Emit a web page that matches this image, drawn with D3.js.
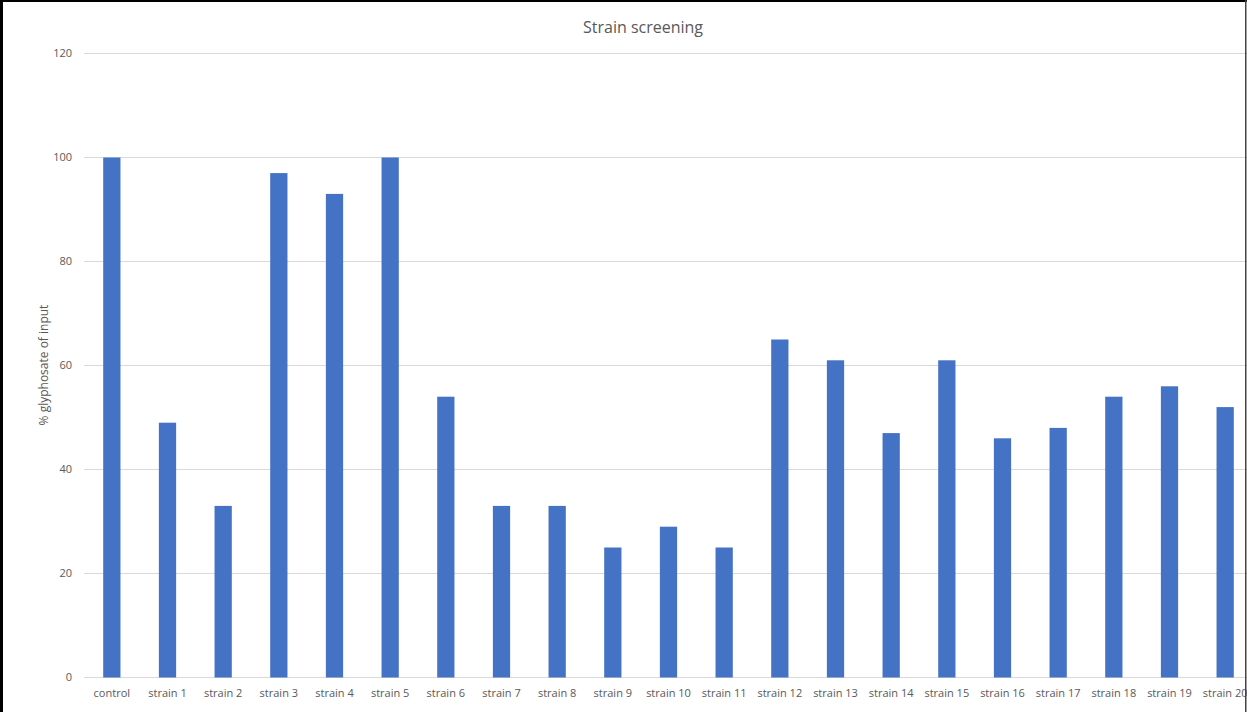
<!DOCTYPE html>
<html>
<head>
<meta charset="utf-8">
<script src="https://cdn.jsdelivr.net/npm/d3@7"></script>
<style>
  body { margin: 0; background: #fff; }
  svg { display: block; font-family: "Open Sans", "Liberation Sans", sans-serif; }
</style>
</head>
<body>
<div id="chart-area"></div>
<script>
// data
var categories = ["control", "strain 1", "strain 2", "strain 3", "strain 4", "strain 5", "strain 6",
  "strain 7", "strain 8", "strain 9", "strain 10", "strain 11", "strain 12", "strain 13",
  "strain 14", "strain 15", "strain 16", "strain 17", "strain 18", "strain 19", "strain 20"];
var values = [100, 49, 33, 97, 93, 100, 54, 33, 33, 25, 29, 25, 65, 61, 47, 61, 46, 48, 54, 56, 52];
var yTicks = [0, 20, 40, 60, 80, 100, 120];

var width = 1247, height = 712;
var plot = {left: 84, right: 1253, top: 53.5, bottom: 677.5};

var svg = d3.select("#chart-area").append("svg").attr("width", width).attr("height", height);

var x = d3.scaleBand().domain(categories).range([plot.left, plot.right]).paddingInner(0.69).paddingOuter(0.345);
var y = d3.scaleLinear().domain([0, 120]).range([plot.bottom, plot.top]);

// gridlines
svg.append("g").selectAll("line").data(yTicks).enter().append("line")
  .attr("x1", plot.left).attr("x2", plot.right)
  .attr("y1", d => y(d)).attr("y2", d => y(d))
  .attr("stroke", "#d9d9d9").attr("stroke-width", 1);

// y tick labels
svg.append("g").selectAll("text").data(yTicks).enter().append("text")
  .attr("x", 72).attr("y", d => y(d)).attr("dy", "0.35em")
  .attr("text-anchor", "end").attr("font-size", "11px").attr("fill", "#595959")
  .text(d => d);

// bars
svg.append("g").selectAll("rect").data(values).enter().append("rect")
  .attr("x", (d, i) => x(categories[i]))
  .attr("y", d => y(d))
  .attr("width", x.bandwidth())
  .attr("height", d => y(0) - y(d))
  .attr("fill", "#4472c4");

// x labels
svg.append("g").selectAll("text").data(categories).enter().append("text")
  .attr("x", d => x(d) + x.bandwidth() / 2).attr("y", 697)
  .attr("text-anchor", "middle").attr("font-size", "11px").attr("fill", "#595959")
  .text(d => d);

// title
svg.append("text").attr("x", 643).attr("y", 33).attr("text-anchor", "middle")
  .attr("font-size", "16px").attr("fill", "#595959").text("Strain screening");

// y axis label
svg.append("text").attr("transform", "translate(48,365) rotate(-90)")
  .attr("text-anchor", "middle").attr("font-size", "12px").attr("fill", "#595959")
  .text("% glyphosate of input");

// frame
svg.append("rect").attr("x", 0).attr("y", 0).attr("width", 3).attr("height", height).attr("fill", "#000");
svg.append("rect").attr("x", 0).attr("y", 0).attr("width", width).attr("height", 2).attr("fill", "#000");
svg.append("rect").attr("x", 1245).attr("y", 0).attr("width", 1.5).attr("height", height).attr("fill", "#444");
</script>
</body>
</html>
